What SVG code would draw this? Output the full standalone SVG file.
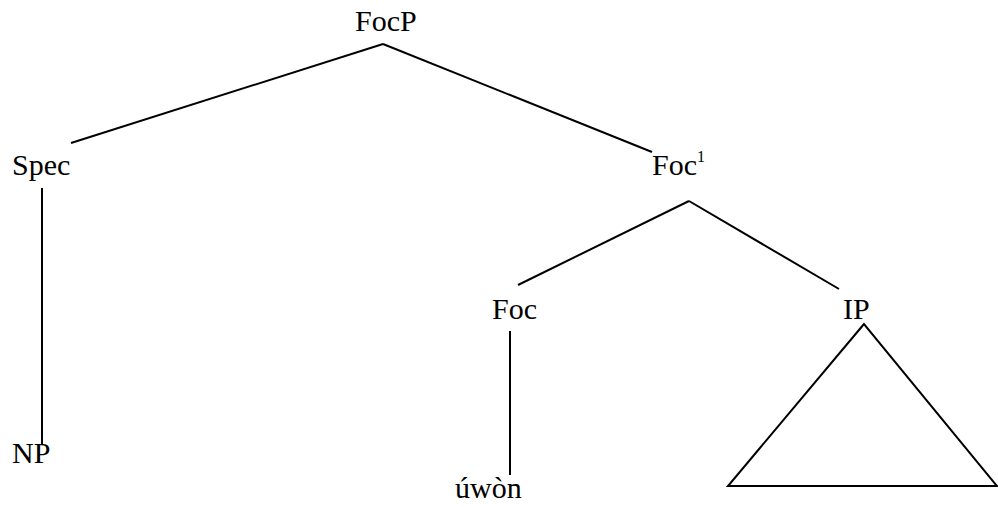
<svg xmlns="http://www.w3.org/2000/svg" width="998" height="507" viewBox="0 0 998 507">
<style>
text{font-family:'Liberation Serif','DejaVu Serif',serif;font-size:30px;fill:#000}
.sup{font-size:16px}
.e{stroke:#000;stroke-width:2;fill:none}
</style>
<rect width="998" height="507" fill="#fff"/>
<g id="connectors">
<line class="e" x1="383" y1="44" x2="71" y2="143"/>
<line class="e" x1="383" y1="44" x2="652" y2="152"/>
<line class="e" x1="42" y1="188" x2="42" y2="445"/>
<line class="e" x1="689" y1="201" x2="518" y2="285"/>
<line class="e" x1="689" y1="201" x2="839" y2="289"/>
<line class="e" x1="510" y1="331" x2="510" y2="475"/>
</g>
<g id="n-FocP"><text x="355" y="31" font-family="Liberation Serif, serif">FocP</text></g>
<g id="n-Spec"><text x="12" y="175" font-family="Liberation Serif, serif">Spec</text></g>
<g id="n-Foc1"><text x="652" y="175" font-family="Liberation Serif, serif">Foc<tspan class="sup" dy="-13">1</tspan></text></g>
<g id="n-Foc"><text x="492" y="319" font-family="Liberation Serif, serif">Foc</text></g>
<g id="n-IP"><text x="843" y="319" font-family="Liberation Serif, serif">IP</text></g>
<g id="n-NP"><text x="12" y="463" font-family="Liberation Serif, serif">NP</text></g>
<g id="n-uwon"><text x="455" y="498" font-family="Liberation Serif, serif">úwòn</text></g>
<g id="n-triangle"><polygon class="e" points="864,324 728,486 997,486"/></g>
</svg>
